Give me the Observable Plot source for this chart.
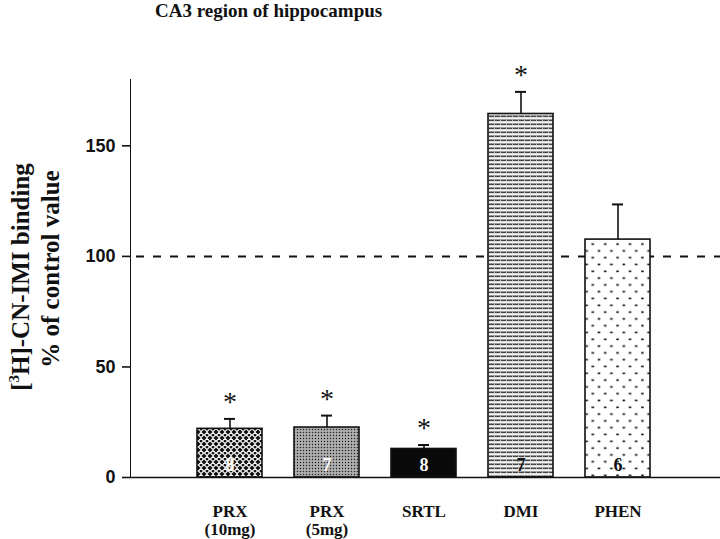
<!DOCTYPE html>
<html>
<head>
<meta charset="utf-8">
<script src="https://cdn.jsdelivr.net/npm/d3@7"></script>
<script src="https://cdn.jsdelivr.net/npm/@observablehq/plot@0.6"></script>
<style>
  body { margin: 0; background: #fff; }
  #title { height: 30px; line-height: 28px; padding-left: 155px; font: bold 19px "Liberation Serif", "Times New Roman", serif; color: #111; white-space: nowrap; }
  #chart svg { display: block; }
</style>
</head>
<body>
<div id="title">CA3 region of hippocampus</div>
<div id="chart"></div>
<script>
// ---- data ----
const categories = ["PRX (10mg)", "PRX (5mg)", "SRTL", "DMI", "PHEN"];
const categoryLabels = ["PRX\n(10mg)", "PRX\n(5mg)", "SRTL", "DMI", "PHEN"];
const meanValues = [22, 22.6, 12.9, 164.4, 107.6];
const errorTops = [26.5, 28, 14.7, 174.4, 123.5];
const sampleSizes = [8, 7, 8, 7, 6];
const significant = [true, true, true, true, false];
const controlLevel = [100];
const yTicks = [0, 50, 100, 150];

const rows = categories.map((c, i) => ({
  cat: c, label: categoryLabels[i], mean: meanValues[i], err: errorTops[i],
  n: String(sampleSizes[i]), sig: significant[i]
}));

// styles (pattern per bar)
const patternIds = ["pat-diamond", "pat-stipple", "pat-solid", "pat-hstripe", "pat-dots"];
const fillFor = d => `url(#${patternIds[categories.indexOf(d.cat)]})`;
const numColor = d => (categories.indexOf(d.cat) < 3 ? "#fff" : "#111");

const serif = '"Liberation Serif", "Times New Roman", serif';

const plot = Plot.plot({
  width: 720,
  height: 509,
  marginTop: 49,
  marginBottom: 62,
  marginLeft: 130,
  marginRight: 0,
  style: { background: "#fff", color: "#111" },
  x: { domain: categories, range: [162.25, 683.7], padding: 0.335, axis: null },
  y: { domain: [0, 180], ticks: yTicks, tickSize: 8, tickPadding: 7, line: true, label: null,
       tickFormat: d => String(d) },
  color: { type: "identity" },
  marks: [
    Plot.ruleY(controlLevel, { stroke: "#111", strokeWidth: 2, strokeDasharray: "8,9", insetLeft: 6 }),
    Plot.barY(rows, { x: "cat", y: "mean", fill: fillFor, stroke: "#111", strokeWidth: 1.6 }),
    Plot.ruleX(rows, { x: "cat", y1: "mean", y2: "err", stroke: "#111", strokeWidth: 1.6 }),
    Plot.tickY(rows, { x: "cat", y: "err", stroke: "#111", strokeWidth: 2, insetLeft: 27, insetRight: 27 }),
    Plot.text(rows.filter(d => d.sig), { x: "cat", y: "err", text: () => "*", dy: -17,
      fontSize: 28, fontFamily: serif, fill: "#111" }),
    Plot.text(rows, { x: "cat", y: 0, text: "n", dy: -12, fontSize: 18, fontWeight: "bold",
      fontFamily: serif, fill: numColor }),
    Plot.ruleY([0], { stroke: "#111", strokeWidth: 1.6 }),
    Plot.text(rows, { x: "cat", y: 0, text: "label", lineAnchor: "top", dy: 27, lineHeight: 1.05,
      fontSize: 17, fontWeight: "bold", fontFamily: serif, fill: "#111" })
  ]
});

// axis tick label font
d3.select(plot).selectAll('[aria-label="y-axis tick label"] text, g[aria-label="y-axis tick label"]')
  .attr("font-family", '"Liberation Sans", Arial, Helvetica, sans-serif')
  .attr("font-weight", "bold")
  .attr("font-size", 18);
d3.select(plot).selectAll('[aria-label="y-axis tick"], [aria-label="y-axis line"]').attr("stroke-width", 1.6);

// pattern definitions
const svg = d3.select(plot);
const defs = svg.insert("defs", ":first-child");

// diamond lattice: black with white diamonds
{
  const p = defs.append("pattern").attr("id", "pat-diamond").attr("patternUnits", "userSpaceOnUse")
    .attr("width", 6).attr("height", 6);
  p.append("rect").attr("width", 6).attr("height", 6).attr("fill", "#111");
  p.append("path").attr("d", "M3,0.4 L5.6,3 L3,5.6 L0.4,3 Z").attr("fill", "none").attr("stroke", "#fff").attr("stroke-width", 1.1);
}
// fine stipple grey
{
  const p = defs.append("pattern").attr("id", "pat-stipple").attr("patternUnits", "userSpaceOnUse")
    .attr("width", 3).attr("height", 3);
  p.append("rect").attr("width", 3).attr("height", 3).attr("fill", "#9a9a9a");
  p.append("rect").attr("x", 0).attr("y", 0).attr("width", 1).attr("height", 1).attr("fill", "#222");
  p.append("rect").attr("x", 1.5).attr("y", 1.5).attr("width", 1).attr("height", 1).attr("fill", "#f0f0f0");
}
// solid black
{
  const p = defs.append("pattern").attr("id", "pat-solid").attr("patternUnits", "userSpaceOnUse")
    .attr("width", 4).attr("height", 4);
  p.append("rect").attr("width", 4).attr("height", 4).attr("fill", "#0a0a0a");
}
// horizontal stripes (DMI)
{
  const p = defs.append("pattern").attr("id", "pat-hstripe").attr("patternUnits", "userSpaceOnUse")
    .attr("width", 6).attr("height", 4);
  p.append("rect").attr("width", 6).attr("height", 4).attr("fill", "#f2f2f2");
  p.append("rect").attr("x", 0).attr("y", 1.5).attr("width", 6).attr("height", 1.6).attr("fill", "#444");
  p.append("rect").attr("x", 2).attr("y", 1.5).attr("width", 1).attr("height", 1.6).attr("fill", "#bbb");
}
// sparse dots (PHEN)
{
  const p = defs.append("pattern").attr("id", "pat-dots").attr("patternUnits", "userSpaceOnUse")
    .attr("width", 12.4).attr("height", 13.6);
  p.append("rect").attr("width", 12.4).attr("height", 13.6).attr("fill", "#fff");
  p.append("rect").attr("x", 2.5).attr("y", 2.5).attr("width", 2.6).attr("height", 1.6).attr("fill", "#111");
  p.append("rect").attr("x", 8.7).attr("y", 9.3).attr("width", 2.6).attr("height", 1.6).attr("fill", "#111");
}

// y-axis title (two rotated lines)
const lab = svg.append("g").attr("font-family", serif).attr("font-weight", "bold").attr("font-size", 25)
  .attr("fill", "#111").attr("text-anchor", "middle");
const t1 = lab.append("text").attr("transform", "translate(29,247) rotate(-90)");
t1.append("tspan").text("[");
t1.append("tspan").attr("font-size", 15).attr("dy", -10).text("3");
t1.append("tspan").attr("dy", 10).text("H]-CN-IMI binding");
lab.append("text").attr("transform", "translate(59,239) rotate(-90)").text("% of control value");

document.getElementById("chart").appendChild(plot);
</script>
</body>
</html>
